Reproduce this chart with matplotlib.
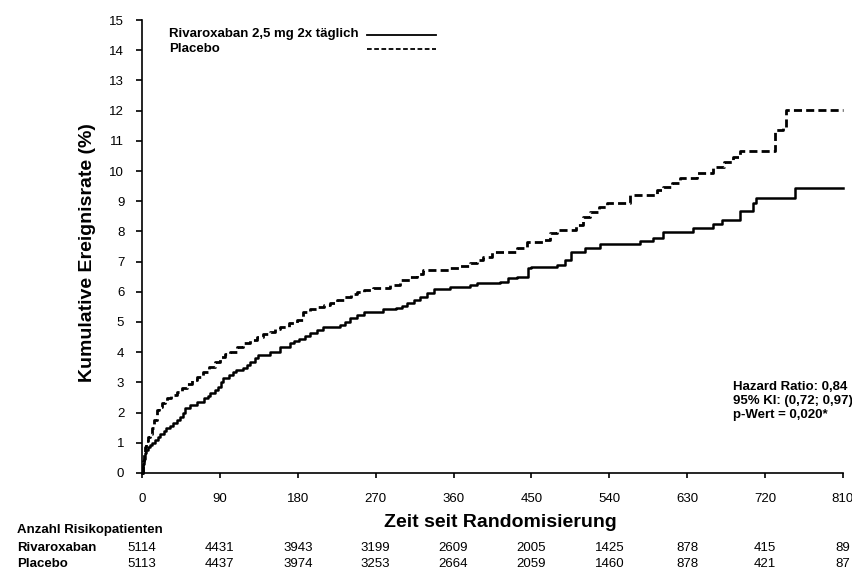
import matplotlib
matplotlib.use("Agg")
import matplotlib.pyplot as plt
from matplotlib import transforms

plt.rcParams['font.family'] = ['Liberation Sans', 'DejaVu Sans']

# Kaplan-Meier Kurven (Tage, kumulative Ereignisrate %)
riva_days = [0, 1, 2, 3, 4, 5, 7, 9, 12, 15, 18, 21, 25, 28, 32, 36, 40, 44, 47, 50,
             55, 63, 72, 76, 79, 84, 88, 91, 94, 101, 105, 109, 117, 121, 125, 130,
             134, 148, 159, 171, 176, 181, 188, 194, 202, 209, 229, 235, 240, 248,
             256, 279, 294, 300, 306, 314, 321, 329, 337, 356, 379, 387, 414, 423,
             433, 446, 450, 479, 489, 496, 512, 529, 575, 591, 602, 637, 660, 670,
             691, 706, 710, 755, 810]
riva_rate = [0, 0.3, 0.45, 0.55, 0.65, 0.76, 0.86, 0.93, 1.0, 1.09, 1.2, 1.29, 1.38,
             1.48, 1.56, 1.65, 1.75, 1.86, 2.0, 2.14, 2.25, 2.36, 2.47, 2.55, 2.64,
             2.75, 2.86, 3.0, 3.14, 3.25, 3.33, 3.41, 3.47, 3.58, 3.69, 3.8, 3.91,
             4.02, 4.18, 4.29, 4.36, 4.43, 4.53, 4.63, 4.74, 4.85, 4.9, 5.0, 5.12,
             5.22, 5.34, 5.42, 5.45, 5.53, 5.62, 5.73, 5.84, 5.96, 6.08, 6.17, 6.23,
             6.28, 6.34, 6.45, 6.5, 6.78, 6.83, 6.89, 7.05, 7.33, 7.44, 7.58, 7.69,
             7.77, 7.99, 8.1, 8.25, 8.38, 8.69, 8.93, 9.1, 9.45, 9.45]

plac_days = [0, 1, 2, 3, 5, 7, 9, 11, 14, 17, 20, 23, 26, 29, 34, 40, 46, 52, 58, 63,
             70, 77, 84, 90, 96, 102, 110, 117, 125, 133, 140, 148, 154, 160, 170,
             179, 186, 194, 202, 210, 217, 225, 233, 241, 248, 257, 267, 287, 298,
             310, 318, 325, 356, 367, 379, 387, 394, 404, 433, 445, 464, 472, 479,
             502, 510, 518, 528, 537, 564, 595, 602, 612, 622, 641, 660, 672, 683,
             691, 731, 741, 744, 810]
plac_rate = [0, 0.4, 0.65, 0.87, 1.05, 1.2, 1.3, 1.48, 1.75, 2.09, 2.2, 2.31, 2.4,
             2.47, 2.58, 2.69, 2.82, 2.95, 3.07, 3.19, 3.35, 3.52, 3.69, 3.85, 3.95,
             4.02, 4.16, 4.29, 4.4, 4.51, 4.6, 4.68, 4.76, 4.84, 4.96, 5.07, 5.34,
             5.42, 5.51, 5.56, 5.62, 5.73, 5.84, 5.92, 6.0, 6.05, 6.11, 6.23, 6.39,
             6.5, 6.6, 6.72, 6.78, 6.86, 6.94, 7.05, 7.16, 7.33, 7.44, 7.66, 7.72,
             7.94, 8.05, 8.21, 8.49, 8.65, 8.8, 8.93, 9.2, 9.37, 9.48, 9.6, 9.76,
             9.92, 10.14, 10.3, 10.47, 10.67, 11.36, 11.41, 12.02, 12.02]

# Anzahl Risikopatienten
risk_days = [0, 90, 180, 270, 360, 450, 540, 630, 720, 810]
risk_riva = [5114, 4431, 3943, 3199, 2609, 2005, 1425, 878, 415, 89]
risk_plac = [5113, 4437, 3974, 3253, 2664, 2059, 1460, 878, 421, 87]

fig = plt.figure(figsize=(8.52, 5.75), dpi=100)
ax = fig.add_axes([0.1667, 0.1774, 0.8227, 0.7878])

ax.plot(riva_days, riva_rate, drawstyle='steps-post', color='black', lw=1.8,
        clip_on=False)
ax.plot(plac_days, plac_rate, drawstyle='steps-post', color='black', lw=2.0,
        ls=(0, (2.9, 1.5)), clip_on=False)

ax.set_xlim(0, 810)
ax.set_ylim(0, 15)
ax.set_xticks(risk_days)
ax.set_yticks(range(16))
for s in ['top', 'right']:
    ax.spines[s].set_visible(False)
for s in ['left', 'bottom']:
    ax.spines[s].set_linewidth(1.2)
ax.tick_params(axis='y', direction='out', length=4.3, width=1.2, pad=8.5,
               labelsize=9.5)
ax.tick_params(axis='x', direction='out', length=3.6, width=1.2, pad=10.5,
               labelsize=9.5)

ax.set_xlabel('Zeit seit Randomisierung', fontsize=14, fontweight='bold')
ax.xaxis.set_label_coords(0.511, -0.09)
ax.set_ylabel('Kumulative Ereignisrate (%)', fontsize=14, fontweight='bold')
ax.yaxis.set_label_coords(-0.066, 0.486)

# Legende
ax.text(0.0385, 0.969, 'Rivaroxaban 2,5 mg 2x täglich', transform=ax.transAxes,
        fontsize=9.5, fontweight='bold', va='center')
ax.text(0.0385, 0.936, 'Placebo', transform=ax.transAxes,
        fontsize=9.5, fontweight='bold', va='center')
ax.plot([0.321, 0.419], [0.967, 0.967], transform=ax.transAxes, color='black',
        lw=1.3, clip_on=False)
ax.plot([0.321, 0.419], [0.936, 0.936], transform=ax.transAxes, color='black',
        lw=1.3, ls=(0, (2.6, 1.4)), clip_on=False)

# Statistik
ax.text(0.843, 0.189, 'Hazard Ratio: 0,84', transform=ax.transAxes,
        fontsize=9.5, fontweight='bold', va='center')
ax.text(0.843, 0.158, '95% KI: (0,72; 0,97)', transform=ax.transAxes,
        fontsize=9.5, fontweight='bold', va='center')
ax.text(0.843, 0.128, 'p-Wert = 0,020*', transform=ax.transAxes,
        fontsize=9.5, fontweight='bold', va='center')

# Tabelle
trans = transforms.blended_transform_factory(ax.transData, fig.transFigure)
fig.text(0.020, 0.0783, 'Anzahl Risikopatienten', fontsize=9.5,
         fontweight='bold', va='center')
fig.text(0.020, 0.0470, 'Rivaroxaban', fontsize=9.5, fontweight='bold',
         va='center')
fig.text(0.020, 0.0191, 'Placebo', fontsize=9.5, fontweight='bold', va='center')
for d, r, p in zip(risk_days, risk_riva, risk_plac):
    ax.text(d, 0.0470, str(r), transform=trans, fontsize=9.5, ha='center',
            va='center', clip_on=False)
    ax.text(d, 0.0191, str(p), transform=trans, fontsize=9.5, ha='center',
            va='center', clip_on=False)

fig.savefig('out.png', dpi=100)
